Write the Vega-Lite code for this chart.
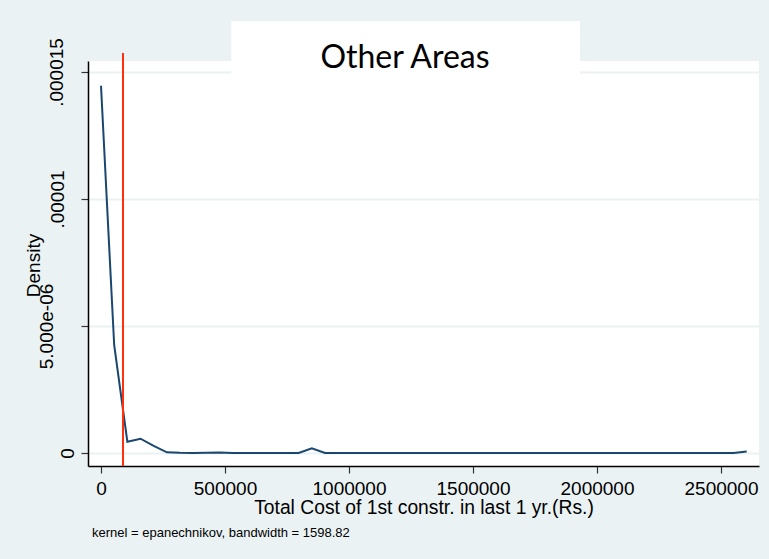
{
  "$schema": "https://vega.github.io/schema/vega-lite/v6.json",
  "width": 671,
  "height": 405,
  "autosize": {"type": "none"},
  "padding": {"left": 88, "top": 61, "right": 10, "bottom": 93},
  "background": "#EAF2F3",
  "config": {
    "font": "Liberation Sans",
    "view": {"fill": "white", "stroke": null}
  },
  "title": {
    "text": "kernel = epanechnikov, bandwidth = 1598.82",
    "orient": "bottom",
    "anchor": "start",
    "frame": "group",
    "font": "Liberation Sans",
    "fontSize": 13,
    "fontWeight": "normal",
    "color": "black",
    "dx": 4,
    "offset": 10
  },
  "datasets": {
    "kde": [
      {"cost": 0, "density": 1.4461e-5},
      {"cost": 53135, "density": 4.252e-6},
      {"cost": 106271, "density": 4.45e-7},
      {"cost": 159406, "density": 5.63e-7},
      {"cost": 212541, "density": 2.8e-7},
      {"cost": 265676, "density": 2.8e-8},
      {"cost": 318812, "density": 5e-9},
      {"cost": 371947, "density": 0},
      {"cost": 425082, "density": 5e-9},
      {"cost": 478218, "density": 1.6e-8},
      {"cost": 531353, "density": 3e-9},
      {"cost": 584488, "density": 0},
      {"cost": 637624, "density": 0},
      {"cost": 690759, "density": 0},
      {"cost": 743894, "density": 0},
      {"cost": 797030, "density": 0},
      {"cost": 850165, "density": 1.85e-7},
      {"cost": 903300, "density": 0},
      {"cost": 956435, "density": 0},
      {"cost": 1009571, "density": 0},
      {"cost": 1062706, "density": 0},
      {"cost": 1115841, "density": 0},
      {"cost": 1168977, "density": 0},
      {"cost": 1222112, "density": 0},
      {"cost": 1275247, "density": 0},
      {"cost": 1328383, "density": 0},
      {"cost": 1381518, "density": 0},
      {"cost": 1434653, "density": 0},
      {"cost": 1487789, "density": 0},
      {"cost": 1540924, "density": 0},
      {"cost": 1594059, "density": 0},
      {"cost": 1647194, "density": 0},
      {"cost": 1700330, "density": 0},
      {"cost": 1753465, "density": 0},
      {"cost": 1806600, "density": 0},
      {"cost": 1859736, "density": 0},
      {"cost": 1912871, "density": 0},
      {"cost": 1966006, "density": 0},
      {"cost": 2019142, "density": 0},
      {"cost": 2072277, "density": 0},
      {"cost": 2125412, "density": 0},
      {"cost": 2178548, "density": 0},
      {"cost": 2231683, "density": 0},
      {"cost": 2284818, "density": 0},
      {"cost": 2337954, "density": 0},
      {"cost": 2391089, "density": 0},
      {"cost": 2444224, "density": 0},
      {"cost": 2497359, "density": 0},
      {"cost": 2550495, "density": 0},
      {"cost": 2603630, "density": 6e-8}
    ],
    "cutoff": [{"cost": 88700}]
  },
  "encoding": {
    "x": {
      "type": "quantitative",
      "scale": {"domain": [-52419, 2653226], "nice": false, "zero": false},
      "axis": {
        "values": [0, 500000, 1000000, 1500000, 2000000, 2500000],
        "format": "d",
        "grid": false,
        "domainColor": "black",
        "domainWidth": 1.5,
        "tickColor": "#333333",
        "tickSize": 7,
        "tickWidth": 1.2,
        "labelFont": "Liberation Sans",
        "labelFontSize": 19,
        "labelColor": "black",
        "labelPadding": 6,
        "title": "Total Cost of 1st constr. in last 1 yr.(Rs.)",
        "titleFont": "Liberation Sans",
        "titleFontSize": 19.3,
        "titleFontWeight": "normal",
        "titleColor": "black",
        "titleBaseline": "alphabetic",
        "titleY": 47
      }
    },
    "y": {
      "type": "quantitative",
      "scale": {"domain": [-5.118e-7, 1.5433e-5], "nice": false, "zero": false},
      "axis": {
        "values": [0, 5e-6, 1e-5, 1.5e-5],
        "labelExpr": "datum.value == 0 ? '0' : datum.value < 6e-6 ? '5.000e-06' : datum.value < 1.2e-5 ? '.00001' : '.000015'",
        "grid": true,
        "gridColor": "#EAF2F3",
        "gridWidth": 2,
        "domainColor": "black",
        "domainWidth": 1.5,
        "tickColor": "#333333",
        "tickSize": 7,
        "tickWidth": 1.2,
        "labelFont": "Liberation Sans",
        "labelFontSize": 19,
        "labelColor": "black",
        "labelAngle": 270,
        "labelAlign": "center",
        "labelBaseline": "alphabetic",
        "labelPadding": {
          "condition": [
            {"test": "datum.value == 0", "value": 8},
            {"test": "datum.value < 6e-6", "value": 29},
            {"test": "datum.value < 1.2e-5", "value": 18}
          ],
          "value": 19
        },
        "title": "Density",
        "titleFont": "Liberation Sans",
        "titleFontSize": 19,
        "titleFontWeight": "normal",
        "titleColor": "black",
        "titleAngle": 270,
        "titleAlign": "center",
        "titleBaseline": "alphabetic",
        "titleX": -49,
        "titleY": 204
      }
    }
  },
  "layer": [
    {
      "data": {"name": "kde"},
      "mark": {"type": "line", "color": "#1a476f", "strokeWidth": 2, "clip": false},
      "encoding": {
        "x": {"field": "cost"},
        "y": {"field": "density"}
      }
    },
    {
      "data": {"name": "cutoff"},
      "mark": {"type": "rule", "color": "#ff3010", "strokeWidth": 2, "clip": false},
      "encoding": {
        "x": {"field": "cost"},
        "y": {"datum": -5.118e-7},
        "y2": {"datum": 1.5748e-5}
      }
    },
    {
      "data": {"values": [{"label": "Other Areas"}]},
      "mark": {"type": "rect", "color": "white", "clip": false},
      "encoding": {
        "x": {"datum": 525403},
        "x2": {"datum": 1931452},
        "y": {"datum": 1.70079e-5},
        "y2": {"datum": 1.4843e-5}
      }
    },
    {
      "data": {"values": [{"label": "Other Areas"}]},
      "mark": {
        "type": "text",
        "font": "Lato",
        "fontSize": 32,
        "color": "black",
        "align": "center",
        "baseline": "alphabetic",
        "clip": false
      },
      "encoding": {
        "x": {"datum": 1225806},
        "y": {"datum": 1.5157e-5},
        "text": {"field": "label"}
      }
    }
  ]
}
